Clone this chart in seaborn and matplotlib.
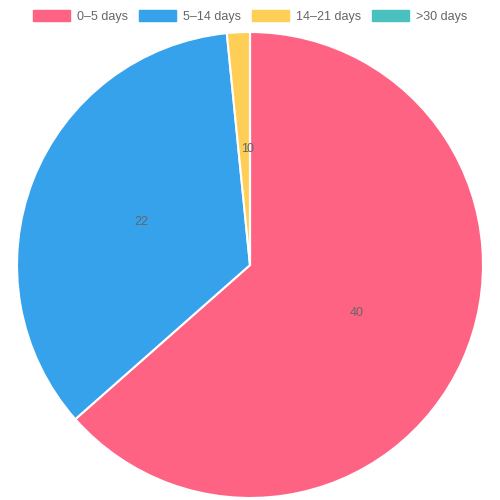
import matplotlib
matplotlib.use("Agg")
import matplotlib.pyplot as plt
from matplotlib.patches import Patch
import seaborn as sns

categories = ["0–5 days", "5–14 days", "14–21 days", ">30 days"]
values = [40, 22, 1, 0]
colors = ["#FF6384", "#36A2EB", "#FFCE56", "#4BC0C0"]

sns.set_style("white")
plt.rcParams["font.family"] = ["Liberation Sans", "DejaVu Sans"]

fig = plt.figure(figsize=(5, 5), dpi=100)
ax = fig.add_axes([0.034, 0.004, 0.932, 0.932])
total = sum(values)
wedges, texts, autotexts = ax.pie(
    values, colors=colors, startangle=90, counterclock=False,
    radius=1.0, pctdistance=0.5,
    autopct=lambda p: f"{round(p * total / 100)}",
    wedgeprops=dict(edgecolor="white", linewidth=1.5),
    textprops=dict(color="#666666", fontsize=9),
)
ax.set_xlim(-1, 1)
ax.set_ylim(-1, 1)
ax.set_aspect("equal")
ax.axis("off")

handles = [Patch(facecolor=c, edgecolor=c, label=l) for c, l in zip(colors, categories)]
fig.legend(handles=handles, loc="center", bbox_to_anchor=(0.5, 0.967), ncol=4,
           frameon=False, fontsize=9, labelcolor="#666666",
           handlelength=3.0, handleheight=0.9, handletextpad=0.55,
           columnspacing=0.85, borderaxespad=0)

fig.savefig("out.png", dpi=100)
